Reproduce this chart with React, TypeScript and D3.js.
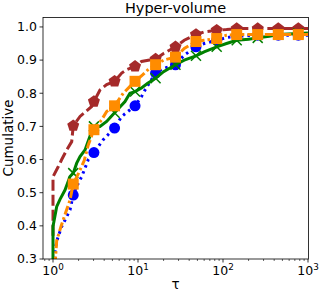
import React from 'react';
import * as d3 from 'd3';

const W = 319;
const H = 292;
const left = 43, right = 308, top = 17, bottom = 259;

// tau positions of the markers (shared by all series)
const markerTau = [1.73, 3.03, 5.3, 9.23, 16.1, 27.6, 48.1, 84.3, 145, 256, 447, 769];

// brown, dashed, pentagons
const brownLine: [number, number][] = [
  [1, 0.37], [1, 0.548], [1.155, 0.579], [1.266, 0.6], [1.45, 0.629], [1.66, 0.654],
  [2.08, 0.73], [2.85, 0.76], [3.57, 0.81], [4.28, 0.826], [6.43, 0.861], [7.36, 0.871],
  [11.0, 0.896], [20, 0.92], [35, 0.96], [60, 0.985], [110, 0.992], [1000, 0.995],
];
const brownMarks = [0.702, 0.775, 0.836, 0.881, 0.903, 0.94, 0.977, 0.99, 0.995, 0.995, 0.995, 0.995];

// blue, dotted, circles
const blueLine: [number, number][] = [
  [1.056, 0.28], [1.056, 0.329], [1.136, 0.363], [1.266, 0.398], [1.42, 0.423], [1.585, 0.448],
  [1.985, 0.529], [2.18, 0.549], [2.38, 0.574], [2.6, 0.6], [3.9, 0.66], [4.44, 0.675],
  [6.43, 0.73], [7.61, 0.745], [11.0, 0.79], [12.1, 0.81], [20, 0.875], [35, 0.915],
  [60, 0.95], [110, 0.968], [1000, 0.975],
];
const blueMarks = [0.493, 0.621, 0.695, 0.762, 0.861, 0.886, 0.94, 0.96, 0.972, 0.975, 0.975, 0.975];

// green, solid, x
const greenLine: [number, number][] = [
  [1, 0.25], [1, 0.398], [1.105, 0.458], [1.209, 0.48], [1.384, 0.508], [1.585, 0.549],
  [1.9, 0.589], [2.08, 0.609], [2.38, 0.629], [2.72, 0.67], [3.57, 0.7], [4.28, 0.715],
  [7.03, 0.775], [8.04, 0.8], [11.0, 0.816], [13, 0.83], [20, 0.865], [35, 0.9],
  [60, 0.925], [110, 0.95], [200, 0.963], [350, 0.972], [1000, 0.982],
];
const greenMarks = [0.559, 0.7, 0.741, 0.805, 0.845, 0.886, 0.913, 0.94, 0.96, 0.967, 0.977, 0.98];

// orange, dash-dot, squares
const orangeLine: [number, number][] = [
  [1.056, 0.28], [1.105, 0.355], [1.242, 0.398], [1.41, 0.44], [1.585, 0.478],
  [2.02, 0.561], [2.33, 0.597], [2.6, 0.644], [3.74, 0.72], [4.28, 0.745],
  [6.71, 0.8], [8.0, 0.82], [11.4, 0.856], [13, 0.87], [20, 0.9], [35, 0.935],
  [60, 0.96], [110, 0.975], [1000, 0.977],
];
const orangeMarks = [0.526, 0.69, 0.762, 0.836, 0.886, 0.909, 0.956, 0.965, 0.977, 0.977, 0.977, 0.977];

const yTicks = [0.3, 0.4, 0.5, 0.6, 0.7, 0.8, 0.9, 1.0];
const xTicks = [1, 10, 100, 1000];

const x = d3.scaleLog().domain([Math.pow(10, -10 / 85), 1000]).range([left, right]);
const y = d3.scaleLinear().domain([0.3, 1.03]).range([bottom, top]);

const merge = (line: [number, number][], marks: number[]) =>
  [...line, ...markerTau.map((t, i) => [t, marks[i]] as [number, number])].sort((a, b) => a[0] - b[0]);

const lineGen = d3.line<[number, number]>().x(d => x(d[0])).y(d => y(d[1]));

const pentagon = (r: number) => {
  const pts = d3.range(5).map(i => {
    const a = -Math.PI / 2 + (i * 2 * Math.PI) / 5;
    return [r * Math.cos(a), r * Math.sin(a)];
  });
  return 'M' + pts.map(p => p.join(',')).join('L') + 'Z';
};

const series = [
  { line: brownLine, marks: brownMarks, color: '#a52a2a', dash: '11,4', marker: 'p' },
  { line: blueLine, marks: blueMarks, color: '#0000ff', dash: '2.5,4', marker: 'o' },
  { line: greenLine, marks: greenMarks, color: '#008000', dash: 'none', marker: 'x' },
  { line: orangeLine, marks: orangeMarks, color: '#ff8c00', dash: '9,3,2.5,3', marker: 's' },
];

function Marker({ kind, cx, cy, color }: { kind: string; cx: number; cy: number; color: string }) {
  if (kind === 'o') return <circle cx={cx} cy={cy} r={5.5} fill={color} />;
  if (kind === 's') return <rect x={cx - 5.5} y={cy - 5.5} width={11} height={11} fill={color} />;
  if (kind === 'p') return <path d={pentagon(6.3)} transform={`translate(${cx},${cy})`} fill={color} />;
  return (
    <path
      d="M-5,-5L5,5M-5,5L5,-5"
      transform={`translate(${cx},${cy})`}
      stroke={color}
      strokeWidth={1.5}
      fill="none"
    />
  );
}

export default function App() {
  const minor: number[] = [];
  [0.1, 1, 10, 100].forEach(d => {
    for (let k = 2; k <= 9; k++) {
      const v = k * d;
      if (v >= x.domain()[0] && v <= 1000) minor.push(v);
    }
  });
  const font = 'DejaVu Sans, sans-serif';

  return (
    <svg width={W} height={H} style={{ position: 'absolute', left: 0, top: 0, background: '#fff' }} fontFamily={font}>
      <defs>
        <clipPath id="plot">
          <rect x={left} y={top} width={right - left} height={bottom - top} />
        </clipPath>
      </defs>
      <rect x={0} y={0} width={W} height={H} fill="#fff" />
      <g clipPath="url(#plot)">
        {series.map((s, i) => (
          <g key={i}>
            <path
              d={lineGen(merge(s.line, s.marks)) || ''}
              fill="none"
              stroke={s.color}
              strokeWidth={3}
              strokeDasharray={s.dash}
            />
            {markerTau.map((t, j) => (
              <Marker key={j} kind={s.marker} cx={x(t)} cy={y(s.marks[j])} color={s.color} />
            ))}
          </g>
        ))}
      </g>
      {/* frame */}
      <rect x={left} y={top + 0.5} width={right - left + 0.5} height={bottom - top - 0.5} fill="none" stroke="#000" strokeWidth={0.8} />
      {/* y axis */}
      {yTicks.map(t => (
        <g key={t}>
          <line x1={left - 3.5} x2={left} y1={y(t)} y2={y(t)} stroke="#000" strokeWidth={0.8} />
          <text x={left - 6} y={y(t) + 4.4} fontSize={12.5} textAnchor="end">
            {t.toFixed(1)}
          </text>
        </g>
      ))}
      {/* x axis */}
      {minor.map(t => (
        <line key={t} x1={x(t)} x2={x(t)} y1={bottom} y2={bottom + 2} stroke="#000" strokeWidth={0.6} />
      ))}
      {xTicks.map((t, i) => (
        <g key={t}>
          <line x1={x(t)} x2={x(t)} y1={bottom} y2={bottom + 3.5} stroke="#000" strokeWidth={0.8} />
          <text x={x(t)} y={275} fontSize={12.5} textAnchor="middle">
            10<tspan dy={-5} fontSize={8.8}>{i}</tspan>
          </text>
        </g>
      ))}
      <text x={(left + right) / 2} y={13} fontSize={14.5} textAnchor="middle">
        Hyper-volume
      </text>
      <text transform={`translate(12.5,${(top + bottom) / 2}) rotate(-90)`} fontSize={13.5} textAnchor="middle">
        Cumulative
      </text>
      <text x={(left + right) / 2} y={289} fontSize={13.5} textAnchor="middle">
        τ
      </text>
    </svg>
  );
}
